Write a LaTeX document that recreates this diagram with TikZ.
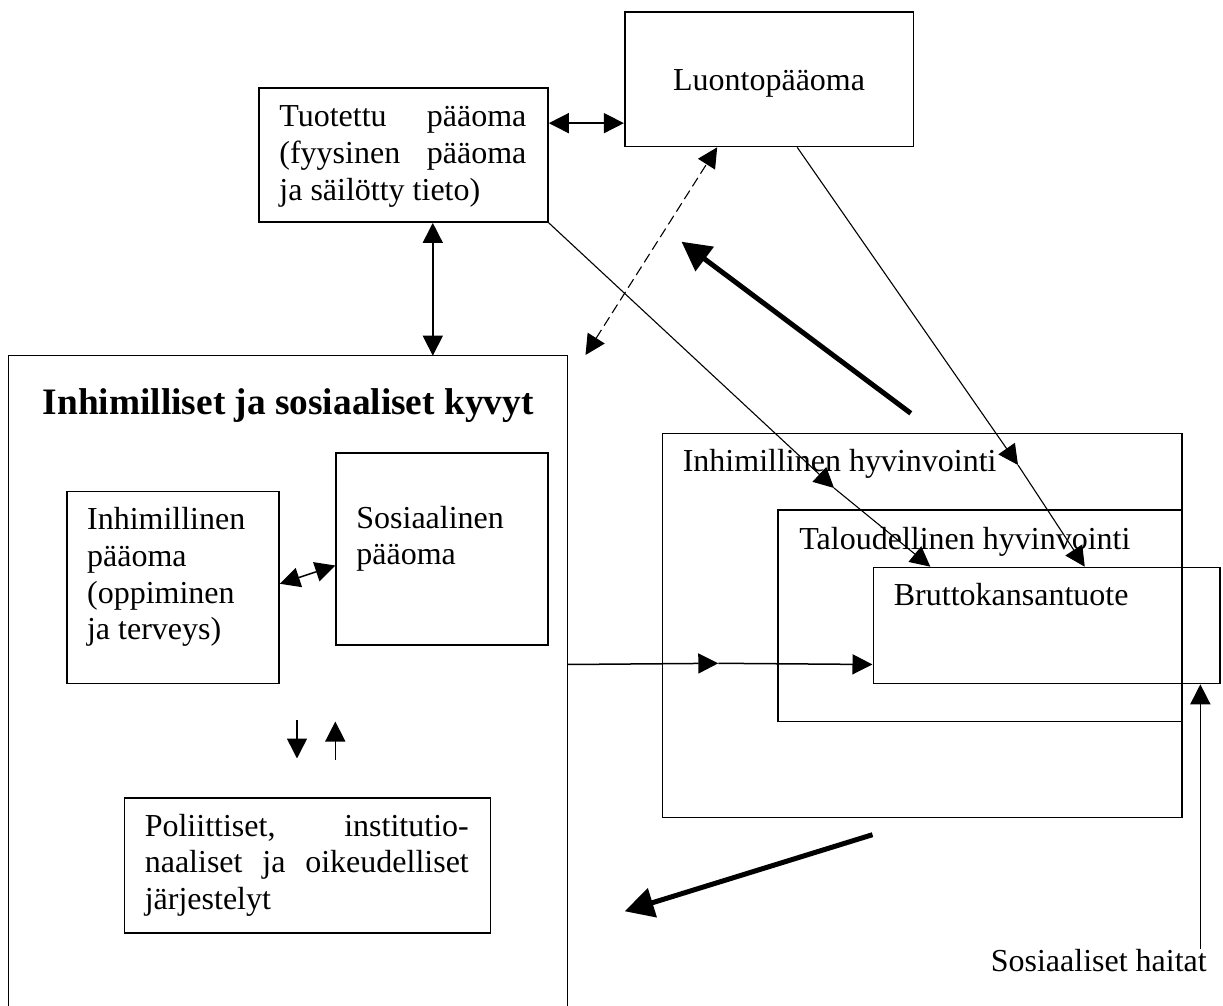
\documentclass[tikz,border=0pt]{standalone}
\usepackage{fontspec}
\setmainfont{Liberation Serif}
\usetikzlibrary{arrows.meta,calc}
\begin{document}
\begin{tikzpicture}[x=0.5pt,y=-0.5pt,
  box/.style={draw,line width=0.8pt,inner sep=0pt,anchor=north west},
  lbl/.style={inner sep=0pt,anchor=base west,font=\fontsize{16}{18.35}\selectfont},
  conn/.style={line width=0.75pt},
  thinline/.style={line width=0.55pt},
  >={Triangle[length=10pt,width=10pt]},
  bigarrow/.style={line width=2.5pt,-{Triangle[length=14.5pt,width=14.8pt]}}
]
\useasboundingbox (0,0) rectangle (1223,1006);

% boxes
\node[box,minimum width=144.4pt,minimum height=67.35pt] (luon) at (623.9,11) {};
\node[box,minimum width=144.4pt,minimum height=67.15pt] (tuot) at (258.4,87) {};
\node[box,draw=none,minimum width=278.7pt,minimum height=325.15pt] (big) at (8.6,355.7) {};
\draw[line width=0.8pt] (big.south west) |- (big.north east) -- (big.south east);
\node[box,minimum width=105.95pt,minimum height=96pt] (ipo) at (66.4,490.7) {};
\node[box,minimum width=105.95pt,minimum height=96pt] (sos) at (335.3,452.3) {};
\node[box,minimum width=182.9pt,minimum height=67.5pt] (pol) at (123.7,797.3) {};
\node[box,minimum width=259.65pt,minimum height=192pt] (ihv) at (661.7,432.7) {};
\node[box,minimum width=202.05pt,minimum height=105.7pt] (thv) at (776.9,509.3) {};
\node[box,minimum width=173.25pt,minimum height=58pt] (brutto) at (872.5,566.7) {};

% texts
\node[lbl] (luonT) at (672.7,90.7) {Luontopääoma};
\node[lbl] (tuotT) at (279,126.7) {\parbox[t]{123.5pt}{Tuotettu\hfill pääoma\\(fyysinen\hfill pääoma\\ja säilötty tieto)}};
\node[inner sep=0pt,anchor=base west,font=\fontsize{18.67}{22}\selectfont\bfseries] (title) at (42.5,414.5) {Inhimilliset ja sosiaaliset kyvyt};
\node[lbl] (ipoT) at (86.7,529.7) {\parbox[t]{100pt}{Inhimillinen\\pääoma\\(oppiminen\\ja terveys)}};
\node[lbl] (sosT) at (356,528) {\parbox[t]{100pt}{Sosiaalinen\\pääoma}};
\node[lbl] (polT) at (144.4,836) {\parbox[t]{162pt}{Poliittiset,\hfill institutio-\\naaliset\hfill ja\hfill oikeudelliset\\järjestelyt}};
\node[lbl] (ihvT) at (682.4,472) {Inhimillinen hyvinvointi};
\node[lbl] (thvT) at (799,549) {Taloudellinen hyvinvointi};
\node[lbl] (bruttoT) at (893.5,605.5) {Bruttokansantuote};
\node[lbl] (sh) at (990.4,971.3) {Sosiaaliset haitat};

% connectors
\coordinate (tl) at ([yshift=15.9pt]tuot.east);
\draw[conn,<->] (tl) -- (tl -| luon.west);
\coordinate (tv) at ([xshift=14.6pt]tuot.south);
\draw[conn,<->] (tv) -- (tv |- big.north);
\coordinate (ld) at ([xshift=-25.95pt]luon.south);
\coordinate (dfree) at (585.5,355);
\draw[thinline,dash pattern=on 5pt off 2.5pt,<->] (dfree) -- (ld);

\coordinate (tm) at (834,488);
\draw[thinline,->] (tuot.south east) -- (tm);
\draw[thinline,->] (tm) -- ([xshift=-58.1pt]brutto.north);

\coordinate (ls) at ([xshift=14.05pt]luon.south);
\coordinate (lm) at (1018,465);
\draw[thinline,->] (ls) -- (lm);
\draw[thinline,->] (lm) -- ([xshift=19.1pt]brutto.north);

\coordinate (hb) at ([yshift=-19.5pt]brutto.west);
\coordinate (hm) at (718.3,663.3);
\draw[conn,->] (hb -| big.east) -- (hm);
\draw[conn,->] (hm) -- (hb);

\coordinate (st) at ([xshift=-3.4pt]sh.north east);
\draw[conn,->] (st) -- (st |- brutto.south);

\draw[conn,<->] ([yshift=1.85pt]ipo.east) -- ([yshift=-8.2pt]sos.west);

\coordinate (d1) at (297,720);
\coordinate (d2) at (297,758.5);
\coordinate (u1) at (335.3,760);
\coordinate (u2) at (335.3,721.5);
\draw[conn,->] (d1) -- (d2);
\draw[conn,->] (u1) -- (u2);

\coordinate (a1) at (910.8,413.3);
\coordinate (a2) at (681.5,241.7);
\draw[bigarrow] (a1) -- (a2);
\coordinate (b1) at (872.5,834.7);
\coordinate (b2) at (624.7,911.3);
\draw[bigarrow] (b1) -- (b2);
\end{tikzpicture}
\end{document}
